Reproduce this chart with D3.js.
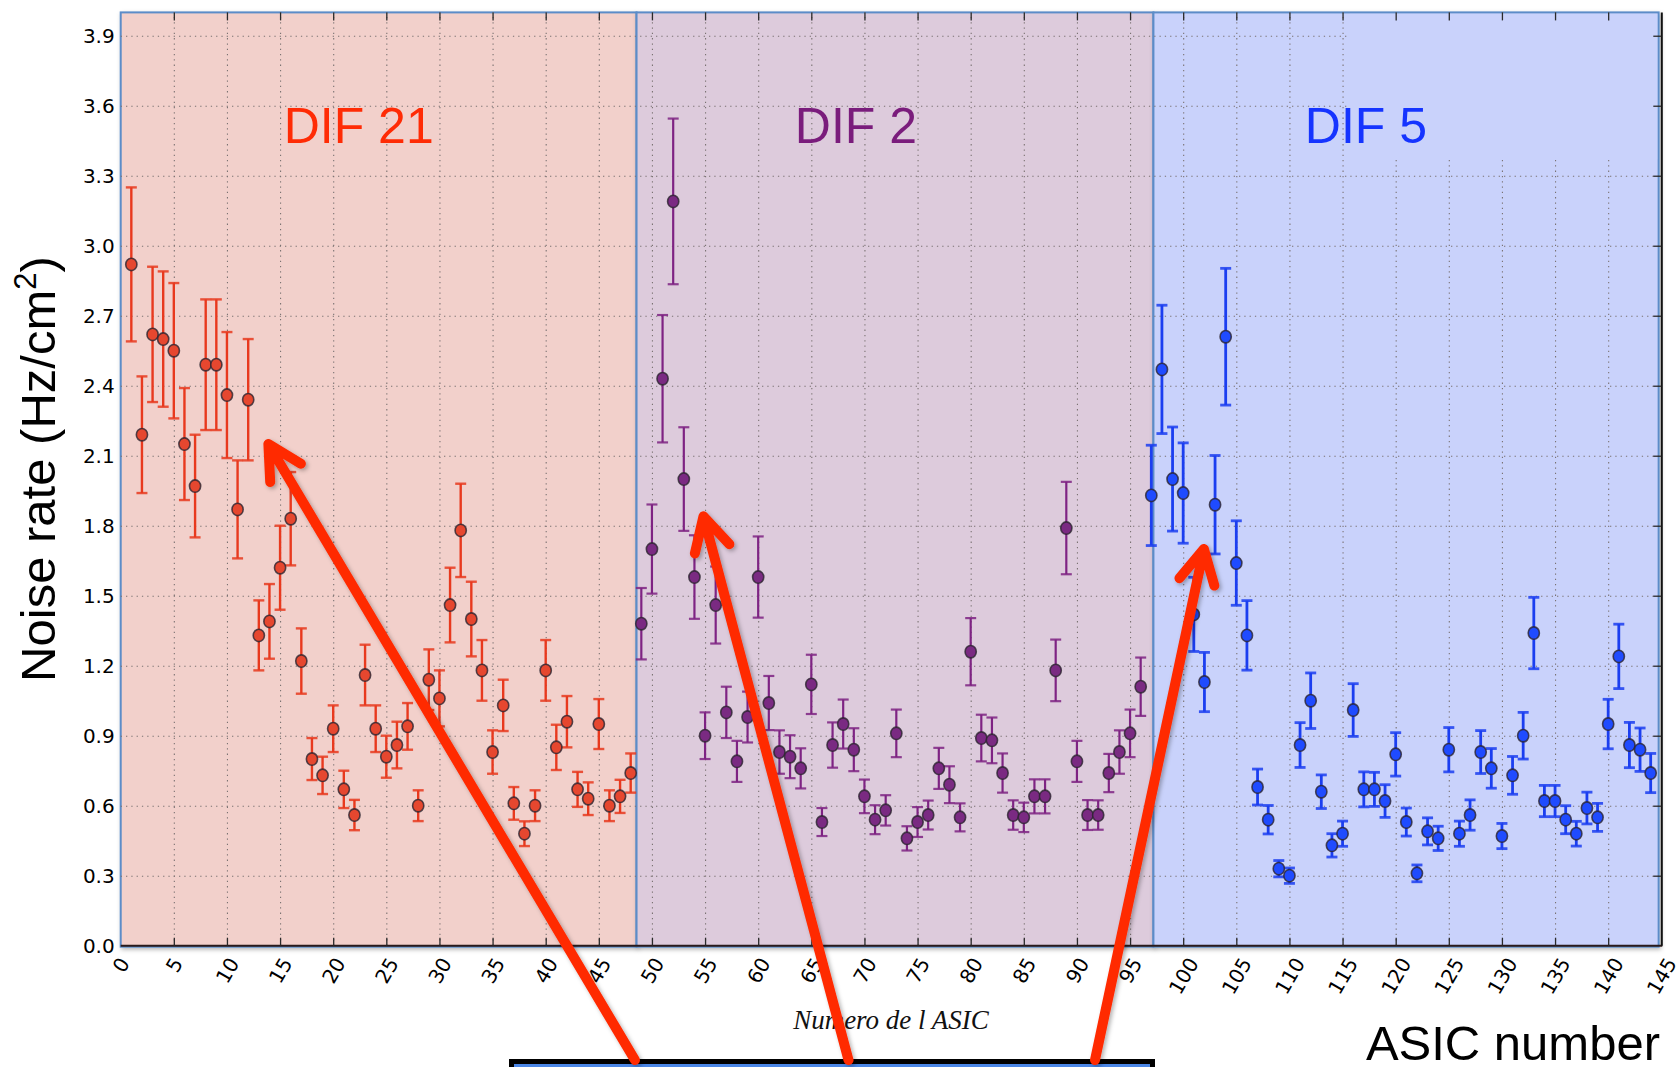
<!DOCTYPE html>
<html>
<head>
<meta charset="utf-8">
<script src="https://cdn.jsdelivr.net/npm/d3@7"></script>
<style>
  body { margin: 0; background: #fff; }
  svg { display: block; }
</style>
</head>
<body>
<svg id="chart" width="1677" height="1067"></svg>
<script>
// ---- ASIC numbers per DIF board ----
const dif21Asic = [1,2,3,4,5,6,7,8,9,10,11,12,13,14,15,16,17,18,19,20,21,22,23,24,
                   25,26,27,28,29,30,31,32,33,34,35,36,37,38,39,40,41,42,43,44,45,46,47,48];
const dif2Asic  = [49,50,51,52,53,54,55,56,57,58,59,60,61,62,63,64,65,66,67,68,69,70,71,72,
                   73,74,75,76,77,78,79,80,81,82,83,84,85,86,87,88,89,90,91,92,93,94,95,96];
const dif5Asic  = [97,98,99,100,101,102,103,104,105,106,107,108,109,110,111,112,113,114,115,116,117,118,119,120,
                   121,122,123,124,125,126,127,128,129,130,131,132,133,134,135,136,137,138,139,140,141,142,143,144];

// ---- noise rate (Hz/cm2) ----
const dif21Rate = [2.92,2.19,2.62,2.60,2.55,2.15,1.97,2.49,2.49,2.36,1.87,2.34,1.33,1.39,1.62,1.83,1.22,0.80,0.73,0.93,0.67,0.56,1.16,0.93,
                   0.81,0.86,0.94,0.60,1.14,1.06,1.46,1.78,1.40,1.18,0.83,1.03,0.61,0.48,0.60,1.18,0.85,0.96,0.67,0.63,0.95,0.60,0.64,0.74];
const dif2Rate  = [1.38,1.70,2.43,3.19,2.00,1.58,0.90,1.46,1.00,0.79,0.98,1.58,1.04,0.83,0.81,0.76,1.12,0.53,0.86,0.95,0.84,0.64,0.54,0.58,
                   0.91,0.46,0.53,0.56,0.76,0.69,0.55,1.26,0.89,0.88,0.74,0.56,0.55,0.64,0.64,1.18,1.79,0.79,0.56,0.56,0.74,0.83,0.91,1.11];
const dif5Rate  = [1.93,2.47,2.00,1.94,1.42,1.13,1.89,2.61,1.64,1.33,0.68,0.54,0.33,0.30,0.86,1.05,0.66,0.43,0.48,1.01,0.67,0.67,0.62,0.82,
                   0.53,0.31,0.49,0.46,0.84,0.48,0.56,0.83,0.76,0.47,0.73,0.90,1.34,0.62,0.62,0.54,0.48,0.59,0.55,0.95,1.24,0.86,0.84,0.74];

// ---- statistical error (half width) ----
const dif21Err = [0.33,0.25,0.29,0.29,0.29,0.24,0.22,0.28,0.28,0.27,0.21,0.26,0.15,0.16,0.18,0.20,0.14,0.09,0.08,0.10,0.08,0.065,0.13,0.10,
                  0.09,0.10,0.10,0.066,0.13,0.12,0.16,0.20,0.16,0.13,0.093,0.11,0.07,0.053,0.066,0.13,0.097,0.11,0.075,0.07,0.107,0.066,0.071,0.084];
const dif2Err  = [0.153,0.191,0.273,0.355,0.222,0.179,0.10,0.165,0.11,0.088,0.109,0.174,0.116,0.093,0.092,0.086,0.127,0.06,0.097,0.105,0.092,0.072,0.062,0.065,
                  0.102,0.052,0.064,0.062,0.088,0.079,0.06,0.144,0.10,0.098,0.084,0.063,0.063,0.073,0.073,0.132,0.198,0.088,0.064,0.063,0.082,0.093,0.102,0.125];
const dif5Err  = [0.215,0.275,0.223,0.215,0.159,0.127,0.211,0.293,0.181,0.149,0.077,0.061,0.035,0.033,0.096,0.119,0.072,0.05,0.054,0.113,0.075,0.073,0.07,0.093,
                  0.06,0.036,0.058,0.052,0.095,0.054,0.065,0.092,0.085,0.054,0.081,0.10,0.153,0.067,0.067,0.06,0.053,0.068,0.06,0.106,0.138,0.097,0.093,0.084];

// ---- axis ticks ----
const xTickValues = [0,5,10,15,20,25,30,35,40,45,50,55,60,65,70,75,80,85,90,95,100,105,110,115,120,125,130,135,140,145];
const yTickValues = [0.0,0.3,0.6,0.9,1.2,1.5,1.8,2.1,2.4,2.7,3.0,3.3,3.6,3.9];

// ---- DIF board bands ----
const bandNames = ["DIF 21", "DIF 2", "DIF 5"];
const bandStart = [0, 48.55, 97.2];
const bandEnd   = [48.55, 97.2, 144.75];
const bandLabelAsic = [22.4, 69.2, 117.2];
const bandLabelRate = 3.44;

// ---- annotation arrows (tail below the axis, tip near the points) ----
const arrowTailAsic = [48.4, 68.5, 91.7];
const arrowTailRate = [-0.49, -0.49, -0.49];
const arrowTipAsic  = [13.9, 54.85, 101.95];
const arrowTipRate  = [2.15, 1.84, 1.70];

// ---- styling ----
const bandFill   = ["#f2d0cb", "#ddcbdc", "#c9d2fb"];
const labelColor = ["#ff2b05", "#7a1c7c", "#1534ff"];
const barColor   = ["#e8391e", "#7e2383", "#1b3ef0"];
const dotColor   = ["#e6472f", "#7a2a82", "#1f4bff"];
const barWidth   = [2.4, 2.2, 2.8];

const svg = d3.select("#chart");
const x = d3.scaleLinear().domain([0, 145]).range([120.7, 1661.3]);
const y = d3.scaleLinear().domain([0, 4]).range([945.7, 12.4]);
const [x0, x1] = x.range();
const [yb, yt] = y.range();

const defs = svg.append("defs");
defs.append("filter").attr("id", "bandShadow")
  .attr("x", "-5%").attr("y", "-5%").attr("width", "110%").attr("height", "110%")
  .append("feDropShadow").attr("dx", 1.5).attr("dy", 2).attr("stdDeviation", 2)
  .attr("flood-color", "#000").attr("flood-opacity", 0.28);
defs.append("filter").attr("id", "arrowShadow")
  .attr("x", "-20%").attr("y", "-20%").attr("width", "140%").attr("height", "140%")
  .append("feDropShadow").attr("dx", 2).attr("dy", 2).attr("stdDeviation", 2)
  .attr("flood-color", "#000").attr("flood-opacity", 0.3);

// coloured bands behind everything
const bands = svg.append("g");
bandNames.forEach((name, i) => {
  bands.append("rect")
    .attr("x", x(bandStart[i])).attr("y", yt)
    .attr("width", x(bandEnd[i]) - x(bandStart[i]))
    .attr("height", yb - yt + 1)
    .attr("fill", bandFill[i])
    .attr("stroke", "#5b8cc8").attr("stroke-width", 2)
    .attr("filter", "url(#bandShadow)");
});

// grid (dotted)
const gridStyle = sel => sel.selectAll("line")
  .attr("stroke", "#7a7272").attr("stroke-width", 1.1)
  .attr("stroke-dasharray", "1.3,4");
svg.append("g").attr("transform", `translate(0,${yb})`)
  .call(d3.axisBottom(x).tickValues(xTickValues.filter(v => v > 0 && v < 145))
    .tickSize(-(yb - yt)).tickFormat(""))
  .call(g => g.select(".domain").remove())
  .call(gridStyle);
svg.append("g").attr("transform", `translate(${x0},0)`)
  .call(d3.axisRight(y).tickValues(yTickValues.filter(v => v > 0))
    .tickSize(x1 - x0).tickFormat(""))
  .call(g => g.select(".domain").remove())
  .call(gridStyle);

// the upper-right corner of the DIF 5 band carries no grid
svg.append("rect")
  .attr("x", x(115.7)).attr("y", yt + 1.5)
  .attr("width", x(144.75) - x(115.7) - 1.5)
  .attr("height", y(3.37) - yt - 1.5)
  .attr("fill", bandFill[2]);

// frame: bottom & right axis lines, inner ticks
svg.append("line").attr("x1", x0).attr("x2", x1 + 1).attr("y1", yb).attr("y2", yb)
  .attr("stroke", "#2a1a1a").attr("stroke-width", 2);
svg.append("line").attr("x1", x1 + 0.5).attr("x2", x1 + 0.5).attr("y1", yt).attr("y2", yb)
  .attr("stroke", "#111").attr("stroke-width", 2);

const tickStyle = sel => { sel.select(".domain").remove(); sel.selectAll("line").attr("stroke", "#2a2a2a").attr("stroke-width", 1.3); };
svg.append("g").attr("transform", `translate(0,${yb})`)
  .call(d3.axisBottom(x).tickValues(xTickValues.filter(v => v > 0 && v < 145)).tickSize(-8).tickFormat(""))
  .call(tickStyle);
svg.append("g").attr("transform", `translate(0,${yt})`)
  .call(d3.axisTop(x).tickValues(xTickValues.filter(v => v > 0 && v < 145)).tickSize(-8).tickFormat(""))
  .call(tickStyle);
svg.append("g").attr("transform", `translate(${x1},0)`)
  .call(d3.axisRight(y).tickValues(yTickValues.filter(v => v > 0)).tickSize(-8).tickFormat(""))
  .call(tickStyle);

// data: error bars and markers per DIF
const boards = [
  { asic: dif21Asic, rate: dif21Rate, err: dif21Err },
  { asic: dif2Asic,  rate: dif2Rate,  err: dif2Err },
  { asic: dif5Asic,  rate: dif5Rate,  err: dif5Err }
];
boards.forEach((b, i) => {
  const pts = b.asic.map((a, k) => ({ a, v: b.rate[k], e: b.err[k] }));
  const g = svg.append("g");
  const eb = g.selectAll("g.eb").data(pts).join("g").attr("class", "eb")
    .attr("stroke", barColor[i]).attr("stroke-width", barWidth[i]).attr("fill", "none");
  eb.append("line")
    .attr("x1", d => x(d.a)).attr("x2", d => x(d.a))
    .attr("y1", d => y(d.v - d.e)).attr("y2", d => y(d.v + d.e));
  eb.append("line").attr("stroke-opacity", 0.85)
    .attr("x1", d => x(d.a) - 5.5).attr("x2", d => x(d.a) + 5.5)
    .attr("y1", d => y(d.v + d.e)).attr("y2", d => y(d.v + d.e));
  eb.append("line").attr("stroke-opacity", 0.85)
    .attr("x1", d => x(d.a) - 5.5).attr("x2", d => x(d.a) + 5.5)
    .attr("y1", d => y(d.v - d.e)).attr("y2", d => y(d.v - d.e));
  g.selectAll("ellipse").data(pts).join("ellipse")
    .attr("cx", d => x(d.a)).attr("cy", d => y(d.v))
    .attr("rx", 5.6).attr("ry", 6.2)
    .attr("fill", dotColor[i])
    .attr("stroke", "#2c2430").attr("stroke-opacity", 0.8).attr("stroke-width", 1.6);
});

// band labels
bandNames.forEach((name, i) => {
  svg.append("text")
    .attr("x", x(bandLabelAsic[i])).attr("y", y(bandLabelRate))
    .attr("text-anchor", "middle")
    .attr("font-family", "'Liberation Sans', Arial, sans-serif")
    .attr("font-size", 50)
    .attr("fill", labelColor[i])
    .text(name);
});

// y tick labels
svg.append("g").attr("transform", `translate(${x0},0)`)
  .call(d3.axisLeft(y).tickValues(yTickValues).tickFormat(d3.format(".1f")).tickSize(0).tickPadding(6))
  .call(g => g.select(".domain").remove())
  .call(g => g.selectAll("text")
    .attr("font-family", "'DejaVu Sans', sans-serif").attr("font-size", 20).attr("fill", "#000"));

// x tick labels, rotated and hung below the axis
const xLab = svg.append("g").attr("transform", `translate(0,${yb})`)
  .call(d3.axisBottom(x).tickValues(xTickValues).tickSize(0).tickPadding(0))
  .call(g => g.select(".domain").remove());
xLab.selectAll("text")
  .attr("font-family", "'DejaVu Sans', sans-serif").attr("font-size", 20).attr("fill", "#000")
  .attr("text-anchor", "middle").attr("dy", "0.35em").attr("y", 0)
  .each(function () {
    const w = this.getComputedTextLength();
    const h = w * Math.sin(Math.PI / 3) + 15 * Math.cos(Math.PI / 3);
    d3.select(this).attr("transform", `translate(0,${10 + h / 2}) rotate(-60)`);
  });

// axis titles
const yTitle = svg.append("text")
  .attr("transform", `translate(55,${(yb + yt) / 2 - 10}) rotate(-90)`)
  .attr("text-anchor", "middle")
  .attr("font-family", "'Liberation Sans', Arial, sans-serif")
  .attr("font-size", 49).attr("fill", "#000");
yTitle.append("tspan").text("Noise rate (Hz/cm");
yTitle.append("tspan").attr("font-size", 31).attr("dy", -19).text("2");
yTitle.append("tspan").attr("dy", 19).text(")");

svg.append("text")
  .attr("x", 891).attr("y", 1029)
  .attr("text-anchor", "middle")
  .attr("font-family", "'Liberation Serif', 'Times New Roman', serif")
  .attr("font-style", "italic").attr("font-size", 27).attr("fill", "#111")
  .text("Numero de l ASIC");

svg.append("text")
  .attr("x", 1660).attr("y", 1060)
  .attr("text-anchor", "end")
  .attr("font-family", "'Liberation Sans', Arial, sans-serif")
  .attr("font-size", 49).attr("fill", "#000")
  .text("ASIC number");

// callout box at the bottom
svg.append("rect")
  .attr("x", 511.5).attr("y", 1061.5).attr("width", 641).attr("height", 30)
  .attr("fill", "#4a86e6").attr("stroke", "#000").attr("stroke-width", 5);

// arrows pointing from the callout to each board
const arrows = svg.append("g").attr("filter", "url(#arrowShadow)")
  .attr("stroke", "#ff2a00").attr("stroke-width", 10).attr("fill", "none")
  .attr("stroke-linecap", "round").attr("stroke-linejoin", "round");
arrowTipAsic.forEach((_, i) => {
  const tx = x(arrowTailAsic[i]), ty = y(arrowTailRate[i]);
  const hx = x(arrowTipAsic[i]),  hy = y(arrowTipRate[i]);
  const ang = Math.atan2(ty - hy, tx - hx);
  const L = 38, spread = 28 * Math.PI / 180;
  const w1 = [hx + L * Math.cos(ang - spread), hy + L * Math.sin(ang - spread)];
  const w2 = [hx + L * Math.cos(ang + spread), hy + L * Math.sin(ang + spread)];
  arrows.append("path")
    .attr("d", `M${tx},${ty}L${hx},${hy}M${w1[0]},${w1[1]}L${hx},${hy}L${w2[0]},${w2[1]}`);
});
</script>
</body>
</html>
